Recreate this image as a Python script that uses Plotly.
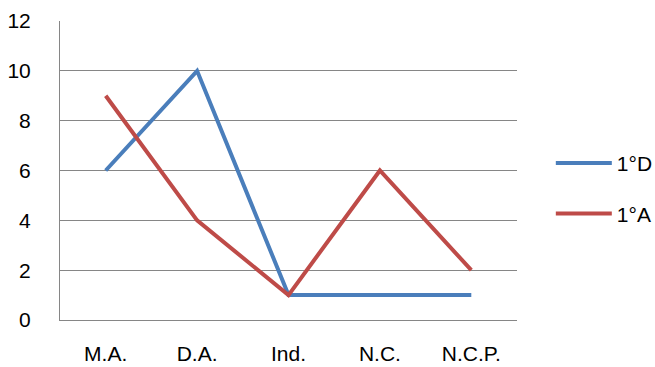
import plotly.graph_objects as go

categories = ["M.A.", "D.A.", "Ind.", "N.C.", "N.C.P."]
serie_1d = [6, 10, 1, 1, 1]
serie_1a = [9, 4, 1, 6, 2]
y_ticks = [0, 2, 4, 6, 8, 10, 12]

FONT = "Liberation Sans"
GRID = "#868686"

fig = go.Figure()
fig.add_trace(go.Scatter(x=categories, y=serie_1d, mode="lines", name="1°D",
                         line=dict(color="#4A7EBB", width=4), legendgroup="d"))
fig.add_trace(go.Scatter(x=categories, y=serie_1a, mode="lines", name="1°A",
                         line=dict(color="#BE4B48", width=4), legendgroup="a"))

fig.update_layout(
    width=655, height=367,
    margin=dict(l=60, r=138, t=21, b=47, autoexpand=False),
    paper_bgcolor="white", plot_bgcolor="white",
    font=dict(family=FONT, size=21, color="black"),
    showlegend=True,
    legend=dict(x=1.074, xanchor="left", y=0.44, yanchor="middle",
                traceorder="grouped", tracegroupgap=20, itemwidth=56,
                font=dict(family=FONT, size=21), bgcolor="rgba(0,0,0,0)"),
    xaxis=dict(type="category", showgrid=False, showline=True, linecolor=GRID,
               linewidth=1, ticks="", ticklabelstandoff=15, range=[-0.5, 4.5],
               automargin=False),
    yaxis=dict(range=[0, 12], tickvals=y_ticks, showgrid=True, gridcolor=GRID,
               gridwidth=1, showline=True, linecolor=GRID, linewidth=1,
               ticks="", ticklabelstandoff=24, zeroline=False, automargin=False),
)

fig.write_html("out.html")
